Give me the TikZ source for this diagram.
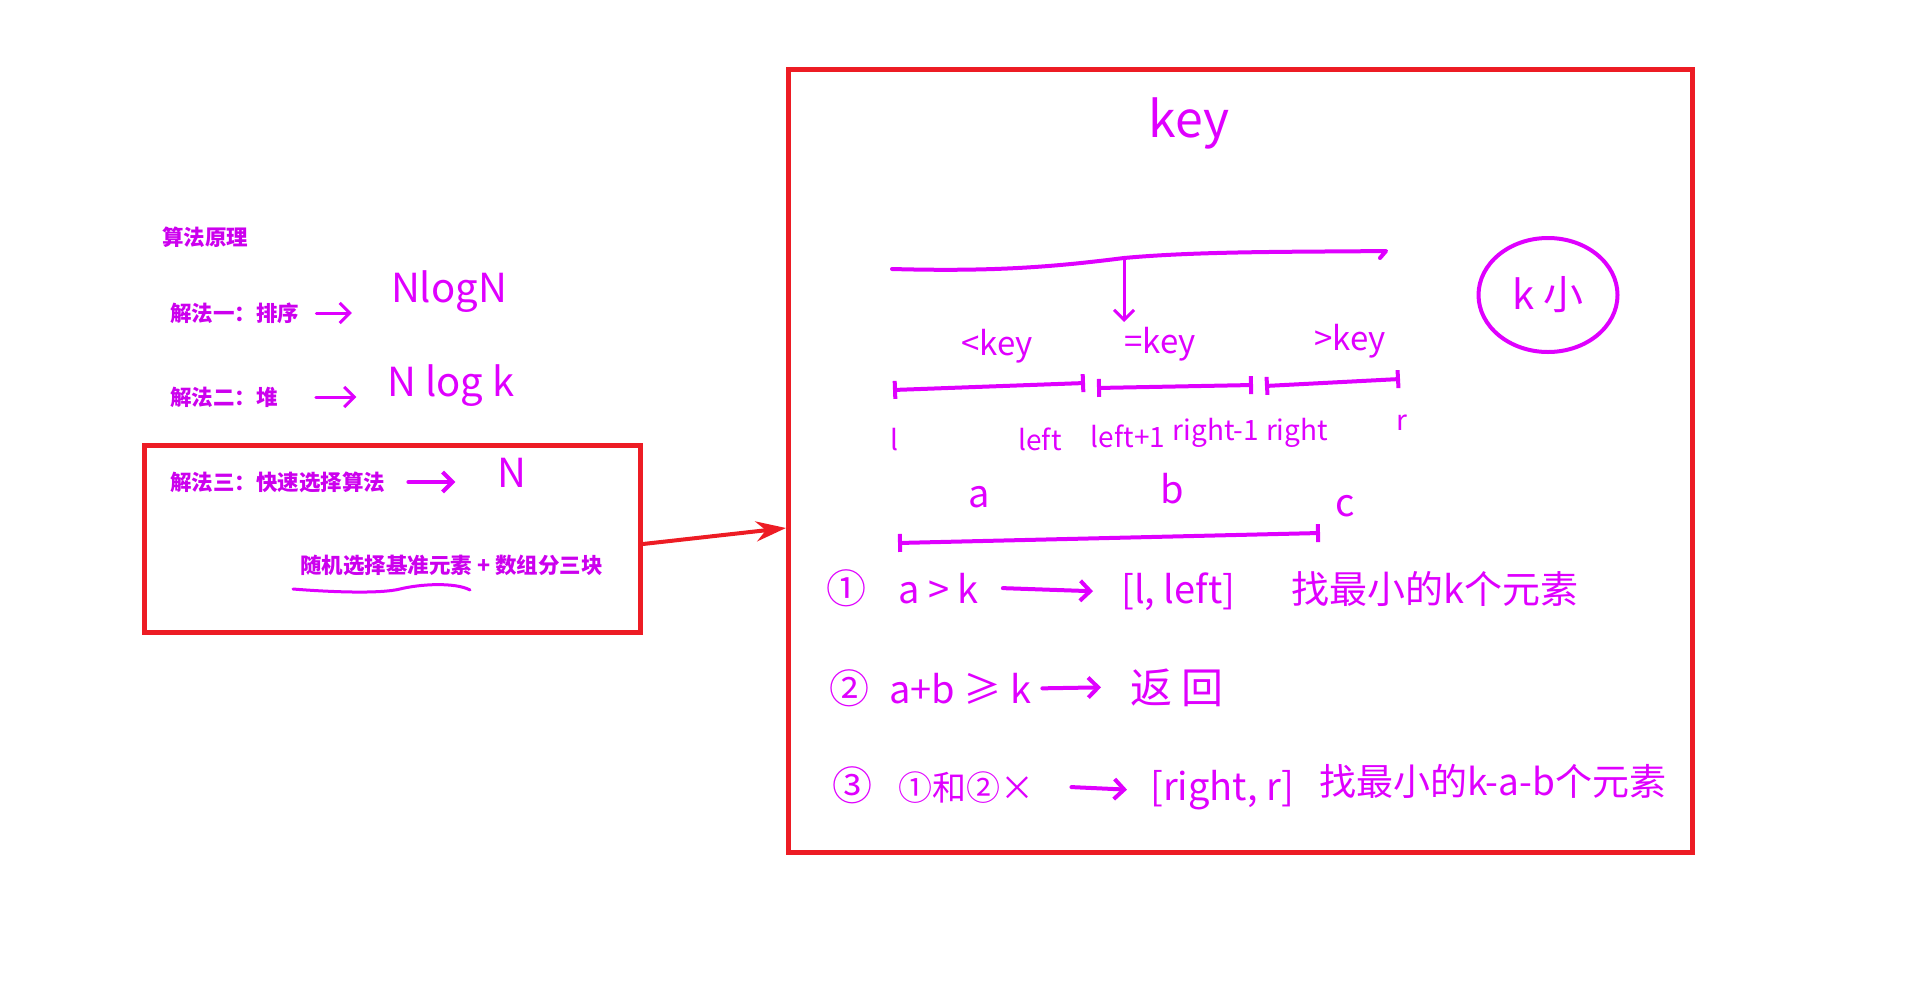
\documentclass[tikz,border=0pt]{standalone}
\usepackage{fontspec}
\setmainfont{Noto Sans CJK SC}
\usetikzlibrary{arrows.meta,shapes.geometric}
\definecolor{penc}{HTML}{DF00FF}
\definecolor{inkc}{HTML}{CC00EE}
\definecolor{redc}{HTML}{ED1C24}
\newcommand{\penw}{4pt}
\newcommand{\boxw}{5pt}
\newcommand{\hand}[1]{\fontsize{#1}{#1}\selectfont}

\begin{document}
\begin{tikzpicture}[x=1pt,y=-1pt]
    %\draw[help lines] (0,0) grid[step=100] (1905,999);
    \tikzset{
        hw/.style={text=penc, inner sep=0pt, font=\hand{#1}},
        hw/.default=38,
        typed/.style={text=inkc, inner sep=0pt, anchor=west, font=\hand{21.5}\bfseries},
        stroke/.style={draw=penc, line width=\penw, line cap=round, line join=round},
        harrow/.style={stroke, -{Straight Barb[length=10pt,width=20pt]}},
        seg/.style={stroke, {Bar[width=18pt]}-{Bar[width=18pt]}},
        redbox/.style={draw=redc, line width=\boxw, inner sep=0pt}
    }
    \useasboundingbox (0,0) rectangle (1905,999);

    % left column
    \node[typed] (title) at (162,237) {算法原理};
    \node[typed] (s1) at (170,313) {解法一：排序};
    \node[typed] (s2) at (170,397) {解法二：堆};
    \node[typed] (s3) at (170,482) {解法三：快速选择算法};
    \node[typed] (s3b) at (300,565) {随机选择基准元素 + 数组分三块};
    \node[hw=40] (c1) at (449,292) {NlogN};
    \node[hw=40] (c2) at (451,386) {N log k};
    \node[hw=40] (c3) at (512,473) {N};
    \draw[harrow, line width=3pt] ([xshift=17pt]s1.east) -- ([xshift=-39pt]s1.east -| c1.west);
    \draw[harrow, line width=3pt] ([xshift=38pt]s2.east) -- ([xshift=-31pt]s2.east -| c2.west);
    \draw[harrow] ([xshift=23pt]s3.east) -- ([xshift=-42pt]s3.east -| c3.west);
    \draw[stroke, line width=3pt] (293,589) .. controls (330,592) and (380,594) .. (400,589)
        .. controls (420,584) and (455,582) .. (470,590);

    % boxes
    \node[redbox, minimum width=496pt, minimum height=187pt] (qbox) at (392.5,539) {};
    \node[redbox, minimum width=904pt, minimum height=783pt] (main) at (1240.5,461) {};
    \draw[draw=redc, line width=4pt, -{Stealth[length=30pt,width=20pt]}]
        ([yshift=-5pt]qbox.east) -- ([yshift=-67pt]main.west);

    % partition
    \node[hw=50, anchor=base] (key) at (1189,137) {key};
    \coordinate (tl) at (892,269);
    \coordinate (split) at (1124,258);
    \coordinate (tr) at (1386,251);
    \coordinate (drop) at (1124,322);
    \draw[stroke] (tl) .. controls (1000,272) and (1060,266) .. (split)
        .. controls (1200,251) and (1300,252) .. (tr) -- ++(-6,7);
    \draw[harrow, line width=3pt] (split) -- (drop);
    \node[hw=33, anchor=base] (lt) at (997,355) {<key};
    \node[hw=33, anchor=base] (eq) at (1160,353) {=key};
    \node[hw=33, anchor=base] (gt) at (1350,350) {>key};
    \coordinate (p0) at (893,390);
    \coordinate (p1) at (1085,383);
    \coordinate (p2) at (1097,388);
    \coordinate (p3) at (1253,385);
    \coordinate (p4) at (1265,386);
    \coordinate (p5) at (1400,379);
    \coordinate (q0) at (898,543);
    \coordinate (q1) at (1320,533);
    \foreach \a/\b in {p0/p1,p2/p3,p4/p5,q0/q1}
        \draw[seg] (\a) -- (\b);
    \foreach \t/\x/\y/\n in {l/894/450/il, left/1040/450/ileft, left+1/1128/447/ileftp,
        right-1/1216/440/irightm, right/1297/440/iright, r/1402/430/ir}
        \node[hw=28, anchor=base] (\n) at (\x,\y) {\t};
    \node[hw, anchor=base] (na) at (979,507) {a};
    \node[hw, anchor=base] (nb) at (1172,503) {b};
    \node[hw, anchor=base] (nc) at (1345,516) {c};
    \node[stroke, ellipse, hw=40, minimum width=139pt, minimum height=114pt] (ksm) at (1548,295) {k 小};

    % three cases
    \node[hw=40, anchor=base west] (r1n) at (826,603) {①};
    \node[hw, anchor=base west] (r1a) at (898,603) {a > k};
    \node[hw, anchor=base west] (r1b) at (1121,603) {[l, left]};
    \node[hw, anchor=base west] (r1c) at (1291,603) {找最小的k个元素};
    \draw[harrow] ([xshift=24pt]r1a.east) -- ([xshift=-28pt]r1b.west);
    \node[hw=40, anchor=base west] (r2n) at (829,703) {②};
    \node[hw, anchor=base west] (r2a) at (889,703) {a+b ≥ k};
    \node[hw=42, anchor=base west] (r2b) at (1130,703) {返 回};
    \draw[harrow] ([xshift=11pt]r2a.east) -- ([xshift=-29pt]r2b.west);
    \node[hw=40, anchor=base west] (r3n) at (832,800) {③};
    \node[hw=34, anchor=base west] (r3a) at (898,800) {①和②×};
    \node[hw, anchor=base west] (r3b) at (1150,800) {[right, r]};
    \node[hw=37, anchor=base west] (r3c) at (1319,795) {找最小的k-a-b个元素};
    \draw[harrow] ([xshift=37pt]r3a.east) -- ([xshift=-23pt]r3b.west);
\end{tikzpicture}
\end{document}
